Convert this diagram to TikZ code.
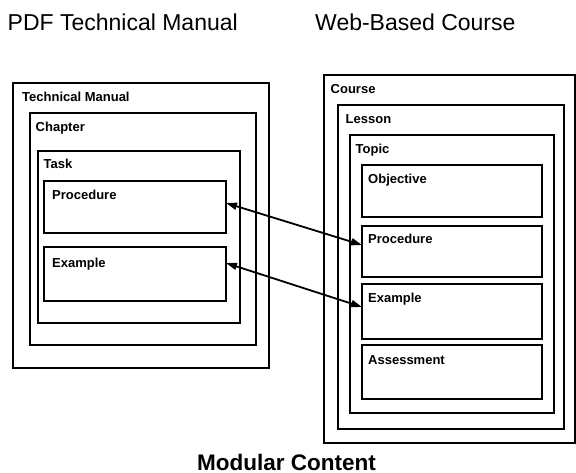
\documentclass[tikz,border=0pt]{standalone}
\usepackage{fontspec}
\setmainfont{Liberation Sans}
\usetikzlibrary{arrows.meta}
\begin{document}
\begin{tikzpicture}[x=1pt,y=-1pt,
  box/.style={draw, line width=2pt, rectangle, inner sep=0pt, outer sep=0pt},
  lbl/.style={anchor=base west, inner sep=0pt, font=\fontsize{13}{15}\selectfont\bfseries},
  ttl/.style={anchor=base west, inner sep=0pt, font=\fontsize{23}{27}\selectfont},
  link/.style={line width=1.8pt, {Triangle[length=11pt,width=7pt]}-{Triangle[length=11pt,width=7pt]}}]
\useasboundingbox (0,0) rectangle (576,473);
% titles
\node[ttl] (t1) at (7.5,31) {PDF Technical Manual};
\node[ttl] (t2) at (315,31) {Web-Based Course};
\node[anchor=base, inner sep=0pt, font=\fontsize{22.5}{26}\selectfont\bfseries] (t3) at (286.5,470) {Modular Content};
% left boxes
\node[box, minimum width=256pt, minimum height=285pt] (tm) at (141,225.5) {};
\node[box, minimum width=226pt, minimum height=232pt] (chap) at (143,229) {};
\node[box, minimum width=202pt, minimum height=172pt] (task) at (139,237) {};
\node[box, minimum width=182pt, minimum height=52pt] (lproc) at (135,207) {};
\node[box, minimum width=182pt, minimum height=54pt] (lex) at (135,274) {};
\node[lbl] (tml) at (22,101.7) {Technical Manual};
\node[lbl] (chapl) at (35.5,131.7) {Chapter};
\node[lbl] (taskl) at (43.5,168.7) {Task};
\node[lbl] (lprocl) at (52,199.7) {Procedure};
\node[lbl] (lexl) at (52,267.7) {Example};
% right boxes
\node[box, minimum width=251pt, minimum height=368pt] (course) at (449.5,259) {};
\node[box, minimum width=226pt, minimum height=324pt] (lesson) at (451,267) {};
\node[box, minimum width=204pt, minimum height=278pt] (topic) at (452,274) {};
\node[box, minimum width=180pt, minimum height=52pt] (obj) at (452,191) {};
\node[box, minimum width=180pt, minimum height=51pt] (rproc) at (452,251.5) {};
\node[box, minimum width=180pt, minimum height=55pt] (rex) at (452,311.5) {};
\node[box, minimum width=180pt, minimum height=54pt] (assess) at (452,372) {};
\node[lbl] (coursel) at (330.5,93.7) {Course};
\node[lbl] (lessonl) at (345.5,123.7) {Lesson};
\node[lbl] (topicl) at (355.5,153.7) {Topic};
\node[lbl] (objl) at (368,183.7) {Objective};
\node[lbl] (rprocl) at (368,243.7) {Procedure};
\node[lbl] (rexl) at (368,302.7) {Example};
\node[lbl] (assessl) at (368,364.7) {Assessment};
% connectors
\draw[link] ([yshift=4pt]lproc.east) -- ([yshift=6.5pt]rproc.west);
\draw[link] ([yshift=11pt]lex.east) -- ([yshift=4.5pt]rex.west);
\end{tikzpicture}
\end{document}
